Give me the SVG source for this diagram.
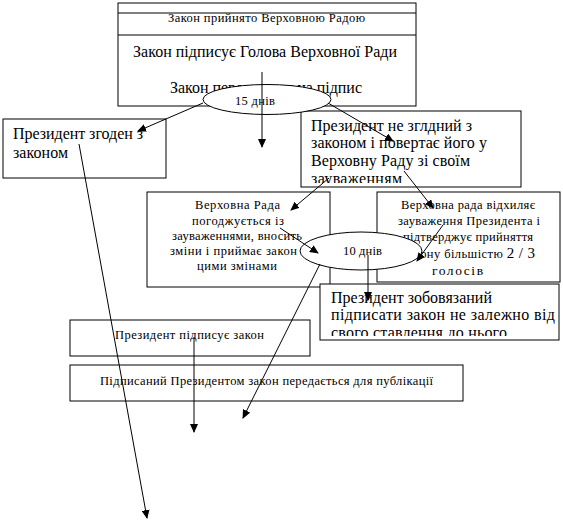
<svg xmlns="http://www.w3.org/2000/svg" width="563" height="522" viewBox="0 0 563 522">
<style>
.box{fill:#fff;stroke:#000;stroke-width:1}
.ell{fill:#fff;stroke:#000;stroke-width:1}
.t{font-family:"Liberation Serif","Times New Roman",serif;fill:#000}
.s12{font-size:12.5px}
.s15{font-size:16px}
.c{stroke:#000;stroke-width:1;fill:none;marker-end:url(#ah)}
</style>
<defs>
<marker id="ah" markerWidth="9" markerHeight="8" refX="8" refY="4" orient="auto" markerUnits="userSpaceOnUse">
<path d="M0,0 L9,4 L0,8 z" fill="#000"/>
</marker>
<clipPath id="clipNe"><rect x="301" y="111" width="220" height="72"/></clipPath>
<clipPath id="clipZob"><rect x="320" y="284" width="239" height="52"/></clipPath>
</defs>

<g id="node-top">
<rect class="box" x="118" y="3" width="298" height="103"/>
<line x1="118" y1="13" x2="416" y2="13" stroke="#000"/>
<line x1="118" y1="35" x2="416" y2="35" stroke="#000"/>
<text class="t s12" x="168" y="22" textLength="197" lengthAdjust="spacing">Закон прийнято Верховною Радою</text>
<text class="t s15" x="133" y="57" textLength="264" lengthAdjust="spacing">Закон підписує Голова Верховної Ради</text>
<text class="t s15" x="170" y="93" textLength="192" lengthAdjust="spacing">Закон передається на підпис</text>
</g>

<g id="node-agree">
<rect class="box" x="3" y="119" width="163" height="59"/>
<text class="t s15" x="13" y="139" textLength="130" lengthAdjust="spacing">Президент згоден з</text>
<text class="t s15" x="13" y="158" textLength="55" lengthAdjust="spacing">законом</text>
</g>

<g id="node-disagree">
<rect class="box" x="301" y="111" width="220" height="76"/>
<g clip-path="url(#clipNe)">
<text class="t s15" x="311" y="131" textLength="161" lengthAdjust="spacing">Президент не зглдний з</text>
<text class="t s15" x="311" y="148" textLength="176" lengthAdjust="spacing">законом і повертає його у</text>
<text class="t s15" x="311" y="166" textLength="159" lengthAdjust="spacing">Верховну Раду зі своїм</text>
<text class="t s15" x="311" y="184" textLength="91" lengthAdjust="spacing">зауваженням</text>
</g>
</g>

<g id="node-rada-agree">
<rect class="box" x="147" y="192" width="183" height="95"/>
<text class="t s12" x="195" y="209" textLength="85" lengthAdjust="spacing">Верховна Рада</text>
<text class="t s12" x="192" y="225" textLength="92" lengthAdjust="spacing">погоджується із</text>
<text class="t s12" x="172" y="240" textLength="130" lengthAdjust="spacing">зауваженнями, вносить</text>
<text class="t s12" x="170" y="255" textLength="136" lengthAdjust="spacing">зміни і приймає закон з</text>
<text class="t s12" x="197" y="270" textLength="80" lengthAdjust="spacing">цими змінами</text>
</g>

<g id="node-rada-reject">
<rect class="box" x="377" y="192" width="183" height="90"/>
<text class="t s12" x="401" y="209" textLength="134" lengthAdjust="spacing">Верховна рада відхиляє</text>
<text class="t s12" x="398" y="225" textLength="142" lengthAdjust="spacing">зауваження Президента і</text>
<text class="t s12" x="403" y="241" textLength="130" lengthAdjust="spacing">підтверджує прийняття</text>
<text class="t s12" x="403" y="258" textLength="132" lengthAdjust="spacing">закону більшістю <tspan font-size="15">2 / 3</tspan></text>
<text class="t" font-size="13.5" x="432" y="275" textLength="51" lengthAdjust="spacing">голосів</text>
</g>

<g id="node-obliged">
<rect class="box" x="320" y="284" width="239" height="56"/>
<g clip-path="url(#clipZob)">
<text class="t s15" x="331" y="303" textLength="161" lengthAdjust="spacing">Президент зобовязаний</text>
<text class="t s15" x="331" y="320" textLength="224" lengthAdjust="spacing">підписати закон не залежно від</text>
<text class="t s15" x="331" y="338" textLength="176" lengthAdjust="spacing">свого ставлення до нього</text>
</g>
</g>

<g id="node-signs">
<rect class="box" x="70" y="320" width="240" height="36"/>
<text class="t s12" x="115" y="339" textLength="149" lengthAdjust="spacing">Президент підписує закон</text>
</g>

<g id="node-publish">
<rect class="box" x="70" y="365" width="393" height="36"/>
<text class="t s12" x="100" y="385" textLength="333" lengthAdjust="spacing">Підписаний Президентом закон передається для публікації</text>
</g>

<g id="node-15days">
<ellipse class="ell" cx="267" cy="99.5" rx="64" ry="15"/>
<text class="t s12" x="235" y="105" textLength="40" lengthAdjust="spacing">15 днів</text>
</g>

<g id="node-10days">
<ellipse class="ell" cx="361" cy="251" rx="61" ry="19"/>
<text class="t s12" x="343" y="255" textLength="39" lengthAdjust="spacing">10 днів</text>
</g>

<g id="connectors">
<line class="c" x1="262" y1="72" x2="262" y2="147"/>
<line class="c" x1="203" y1="103" x2="138" y2="131"/>
<line class="c" x1="328" y1="103" x2="393" y2="141"/>
<line class="c" x1="79" y1="144" x2="147" y2="518"/>
<line class="c" x1="329" y1="178" x2="291" y2="210"/>
<line class="c" x1="404" y1="171" x2="433" y2="208"/>
<line class="c" x1="280" y1="228" x2="318" y2="253"/>
<line class="c" x1="443" y1="225" x2="417" y2="261"/>
<line class="c" x1="368" y1="255" x2="368" y2="300"/>
<line class="c" x1="320" y1="264" x2="243" y2="418"/>
<line class="c" x1="194" y1="337" x2="194" y2="432"/>
</g>
</svg>
